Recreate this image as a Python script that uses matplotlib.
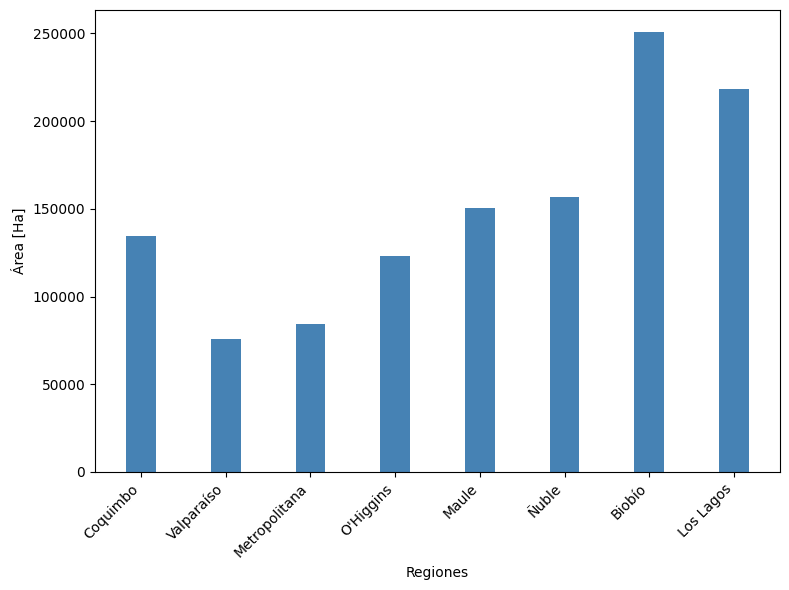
import matplotlib.pyplot as plt

regiones = ['Coquimbo', 'Valparaíso', 'Metropolitana', "O'Higgins", 'Maule',
            'Ñuble', 'Biobío', 'Los Lagos']
area = [134500, 75800, 84400, 123100, 150500, 156700, 250700, 218200]

plt.figure(figsize=(7.89, 5.9))
plt.bar(regiones, area, width=0.35, color='steelblue')
plt.xlabel('Regiones')
plt.ylabel('Área [Ha]')
plt.xticks(rotation=45, ha='right')
plt.subplots_adjust(left=0.1204, right=0.9886, top=0.983, bottom=0.2)
plt.savefig('out.png', dpi=100)
plt.close()
